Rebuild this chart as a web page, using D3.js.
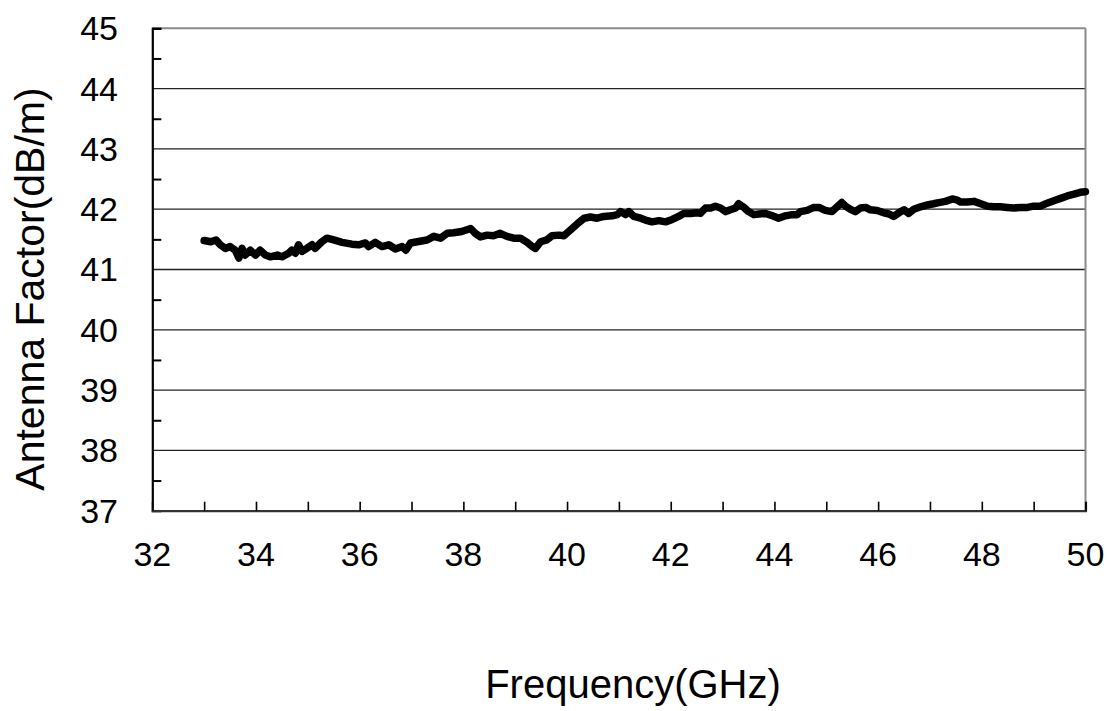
<!DOCTYPE html>
<html>
<head>
<meta charset="utf-8">
<script src="https://cdn.jsdelivr.net/npm/d3@7"></script>
<style>
  html, body { margin: 0; padding: 0; background: #fff; }
  svg { display: block; }
  text { font-family: "Liberation Sans", Arial, sans-serif; fill: #000; }
</style>
</head>
<body>
<svg id="chart" width="1107" height="711"></svg>
<script>
const freq = [
  33.00,33.13,33.23,33.31,33.41,33.50,33.60,33.67,33.73,33.79,33.89,33.99,34.08,34.18,34.28,34.41,34.50,34.63,34.69,34.76,
  34.82,34.89,34.98,35.08,35.14,35.27,35.37,35.50,35.66,35.85,35.98,36.11,36.17,36.30,36.43,36.56,36.69,36.82,36.89,36.98,
  37.11,37.30,37.43,37.56,37.69,37.81,37.97,38.14,38.23,38.33,38.46,38.58,38.71,38.84,38.97,39.10,39.23,39.33,39.39,39.49,
  39.61,39.71,39.84,39.94,40.07,40.20,40.33,40.45,40.58,40.71,40.87,40.97,41.03,41.13,41.19,41.29,41.42,41.51,41.64,41.77,
  41.90,42.03,42.15,42.25,42.38,42.51,42.57,42.67,42.77,42.86,42.96,43.06,43.15,43.25,43.31,43.41,43.50,43.60,43.70,43.83,
  43.96,44.08,44.21,44.34,44.44,44.50,44.63,44.76,44.86,44.98,45.11,45.21,45.30,45.37,45.46,45.56,45.66,45.76,45.85,45.98,
  46.11,46.21,46.30,46.40,46.50,46.59,46.69,46.82,46.95,47.07,47.17,47.30,47.43,47.53,47.59,47.72,47.85,47.98,48.11,48.23,
  48.36,48.49,48.62,48.75,48.88,49.00,49.13,49.26,49.39,49.52,49.65,49.78,49.90,50.00
];
const antennaFactor = [
  41.48,41.46,41.49,41.41,41.35,41.38,41.32,41.19,41.35,41.24,41.32,41.24,41.32,41.24,41.21,41.24,41.21,41.27,41.32,41.27,
  41.41,41.30,41.35,41.41,41.35,41.46,41.52,41.49,41.45,41.42,41.41,41.44,41.38,41.45,41.38,41.41,41.34,41.38,41.32,41.44,
  41.46,41.49,41.55,41.52,41.60,41.61,41.63,41.68,41.60,41.54,41.57,41.56,41.60,41.55,41.52,41.52,41.45,41.38,41.35,41.46,
  41.49,41.56,41.57,41.56,41.66,41.76,41.85,41.87,41.85,41.88,41.89,41.91,41.96,41.91,41.96,41.88,41.85,41.82,41.79,41.81,
  41.79,41.83,41.88,41.93,41.93,41.94,41.93,42.02,42.02,42.05,42.02,41.96,41.99,42.02,42.09,42.03,41.96,41.91,41.92,41.93,
  41.89,41.85,41.89,41.91,41.91,41.96,41.98,42.03,42.03,41.98,41.96,42.04,42.11,42.05,42.00,41.96,42.02,42.03,41.99,41.98,
  41.94,41.92,41.88,41.94,41.99,41.93,42.00,42.04,42.07,42.09,42.11,42.13,42.17,42.15,42.12,42.12,42.13,42.09,42.05,42.04,
  42.04,42.03,42.02,42.03,42.03,42.05,42.05,42.10,42.14,42.18,42.22,42.25,42.28,42.29
];
const xTicks = [32, 34, 36, 38, 40, 42, 44, 46, 48, 50];
const xMinorTicks = [32,33,34,35,36,37,38,39,40,41,42,43,44,45,46,47,48,49,50];
const yTicks = [37, 38, 39, 40, 41, 42, 43, 44, 45];
const yMinorTicks = [37.5, 38.5, 39.5, 40.5, 41.5, 42.5, 43.5, 44.5];
const xTitle = "Frequency(GHz)";
const yTitle = "Antenna Factor(dB/m)";

const svg = d3.select("#chart");
const x = d3.scaleLinear().domain([32, 50]).range([152.3, 1085.5]);
const y = d3.scaleLinear().domain([37, 45]).range([510.7, 28.3]);

// gridlines
svg.append("g").selectAll("line").data(yTicks.filter(d => d > 37 && d < 45)).join("line")
  .attr("x1", x(32)).attr("x2", x(50))
  .attr("y1", d => y(d)).attr("y2", d => y(d))
  .attr("stroke", "#222").attr("stroke-width", 1.3);

// frame (top & right)
svg.append("line").attr("x1", x(32)).attr("x2", x(50)).attr("y1", y(45)).attr("y2", y(45))
  .attr("stroke", "#8a8a8a").attr("stroke-width", 2);
svg.append("line").attr("x1", x(50)).attr("x2", x(50)).attr("y1", y(45)).attr("y2", y(37))
  .attr("stroke", "#8a8a8a").attr("stroke-width", 2);

// y axis
const yAxis = d3.axisRight(y).tickValues(yMinorTicks.concat([45])).tickSize(9).tickFormat("");
const gy = svg.append("g").attr("transform", `translate(${x(32)},0)`).call(yAxis);
gy.select(".domain").attr("stroke", "#000").attr("stroke-width", 2.2);
gy.selectAll(".tick line").attr("stroke", "#000").attr("stroke-width", 2);

// x axis
const xAxis = d3.axisTop(x).tickValues(xMinorTicks).tickSize(9).tickFormat("");
const gx = svg.append("g").attr("transform", `translate(0,${y(37)})`).call(xAxis);
gx.select(".domain").attr("stroke", "#333").attr("stroke-width", 2.2);
gx.selectAll(".tick line").attr("stroke", "#000").attr("stroke-width", 1.6);

// tick labels
svg.append("g").selectAll("text").data(yTicks).join("text")
  .attr("x", 118).attr("y", d => y(d)).attr("dy", "0.35em")
  .attr("text-anchor", "end").attr("font-size", 34)
  .text(d => d);
svg.append("g").selectAll("text").data(xTicks).join("text")
  .attr("x", d => x(d)).attr("y", 566)
  .attr("text-anchor", "middle").attr("font-size", 34)
  .text(d => d);

// titles
svg.append("text").attr("x", 633).attr("y", 698).attr("text-anchor", "middle")
  .attr("font-size", 40).text(xTitle);
svg.append("text").attr("transform", "translate(44,289) rotate(-90)").attr("text-anchor", "middle")
  .attr("font-size", 41).text(yTitle);

// data line
const data = freq.map((f, i) => ({ f, v: antennaFactor[i] }));
svg.append("path").datum(data)
  .attr("fill", "none").attr("stroke", "#000").attr("stroke-width", 7.5)
  .attr("stroke-linejoin", "round").attr("stroke-linecap", "round")
  .attr("d", d3.line().x(d => x(d.f)).y(d => y(d.v)));
</script>
</body>
</html>
